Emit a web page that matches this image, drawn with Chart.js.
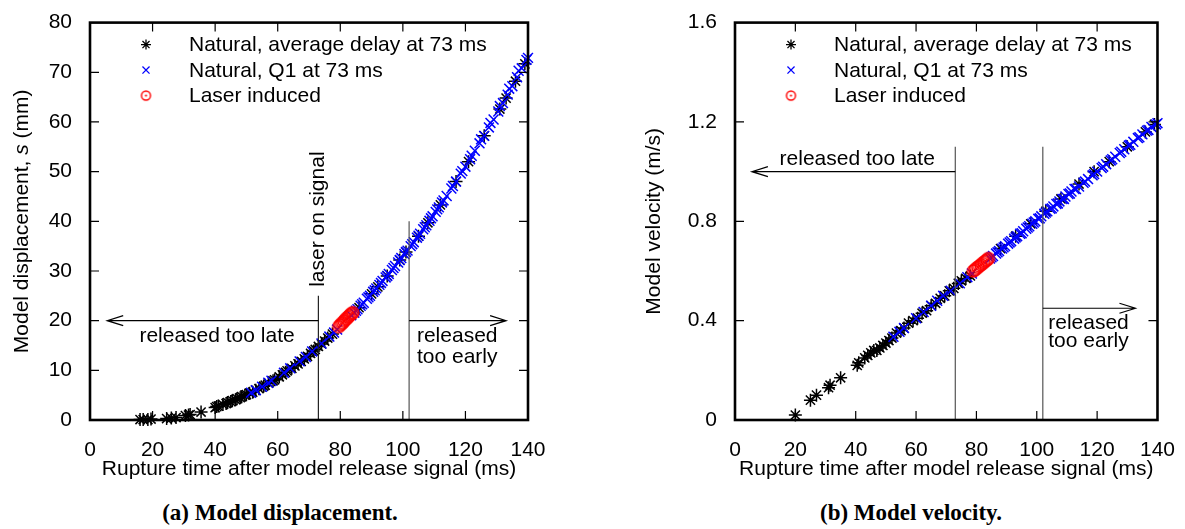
<!DOCTYPE html>
<html>
<head>
<meta charset="utf-8">
<script src="https://cdn.jsdelivr.net/npm/chart.js@4"></script>
<style>
  body { margin: 0; background: #fff; width: 1185px; height: 529px; position: relative; overflow: hidden; }
  .box { position: absolute; top: 0; height: 500px; }
  .cap { position: absolute; top: 500px; font: bold 23px 'Liberation Serif', 'Times New Roman', serif; color: #000; transform: translateX(-50%); white-space: nowrap; }
</style>
</head>
<body>
<div class="box" style="left:0;width:560px"><canvas id="disp"></canvas></div>
<div class="box" style="left:630px;width:555px"><canvas id="vel"></canvas></div>
<div class="cap" style="left:280px">(a) Model displacement.</div>
<div class="cap" style="left:911px">(b) Model velocity.</div>
<script>
// labels
const seriesNames = ['Natural, average delay at 73 ms', 'Natural, Q1 at 73 ms', 'Laser induced'];
const xTitle = 'Rupture time after model release signal (ms)';

// (a) displacement, s in mm vs rupture time in ms
const dispBlackT = [16, 17, 18.5, 19.5, 24.5, 26, 27.5, 30.5, 31.5, 32, 35.5, 40, 40.5, 41, 42.5, 43.5, 44, 45, 45.5, 46.5, 47, 48, 48.5, 49.5, 50,
  51, 52, 53, 54, 55.5, 56, 57, 58.5, 59, 60.5, 61.5, 62.5, 63, 64.5, 65.5, 66.5, 67.5, 68.5, 69.5, 70.5, 71.5, 72, 73, 74, 75, 76, 77.5,
  86, 90, 92, 95, 99, 101, 105, 108, 112, 117, 121, 126, 131, 133, 136, 139];
const dispBlackS = [0.1, 0.1, 0.1, 0.2, 0.3, 0.4, 0.5, 0.9, 1.0, 1.1, 1.6, 2.5, 2.7, 2.8, 3.1, 3.3, 3.5, 3.7, 3.9, 4.1, 4.3, 4.5, 4.7, 5.0, 5.1,
  5.4, 5.6, 6.0, 6.3, 6.8, 7.0, 7.4, 7.9, 8.1, 8.7, 9.1, 9.6, 9.9, 10.4, 10.9, 11.3, 11.8, 12.3, 12.8, 13.4, 13.9, 14.2, 14.8, 15.3, 15.9, 16.5, 17.3,
  22.6, 25.4, 26.8, 29.0, 32.2, 33.8, 37.0, 39.7, 43.3, 48.0, 52.0, 57.2, 62.6, 64.8, 68.2, 71.7];
const dispBlueT = [51.5, 53, 55, 57, 58, 62, 64, 67, 69, 71, 74, 76.5, 78, 79, 83.5,
  84.5, 85.5, 86.5, 87.5, 88.5, 89.5, 90.5, 91.5, 92.5, 93.5, 94.5, 95.5, 96.5, 97.5, 98.5, 99.5, 100.5, 101.5, 102.5, 103.5,
  104.5, 105.5, 106.5, 107.5, 108.5, 109.5, 110.5, 111.5, 112.5, 114, 115.5, 117, 118.5, 120, 121.5, 123, 124.5, 126, 127.5,
  129, 130.5, 132, 133.5, 135, 136.5, 138, 139.5,
  85, 87, 89, 91, 93, 95, 97, 99, 101, 103, 105, 107, 109, 111, 113, 116, 119, 122, 125, 128, 131, 134, 137, 140];
const dispBlueS = [5.5, 6.0, 6.7, 7.5, 7.9, 9.5, 10.4, 11.8, 12.7, 13.8, 15.4, 16.8, 17.6, 18.2, 21.1,
  21.6, 22.3, 23.0, 23.6, 24.4, 25.0, 25.8, 26.5, 27.2, 28.0, 28.7, 29.4, 30.2, 31.0, 31.7, 32.6, 33.4, 34.1, 35.0, 35.8,
  36.7, 37.5, 38.4, 39.2, 40.1, 41.0, 41.9, 42.8, 43.8, 45.1, 46.6, 48.0, 49.6, 51.0, 52.5, 54.2, 55.7, 57.2, 58.9,
  60.5, 62.1, 63.8, 65.5, 67.2, 69.0, 70.8, 72.5,
  22.0, 23.3, 24.7, 26.1, 27.6, 29.0, 30.6, 32.2, 33.8, 35.4, 37.1, 38.8, 40.6, 42.4, 44.2, 47.1, 50.1, 53.2, 56.5, 59.8, 63.2, 66.7, 70.3, 72.9];
const dispRedT = [79.5, 80, 80.4, 80.8, 81.2, 81.6, 82, 82.4, 82.8, 83.2, 83.6, 84];
const dispRedS = [18.8, 19.1, 19.4, 19.6, 19.9, 20.2, 20.4, 20.7, 20.9, 21.2, 21.4, 21.6];

// (b) velocity, m/s vs rupture time in ms
const velBlackT = [20, 25, 27, 31, 31.5, 35, 40.5, 41, 43, 44, 45, 46, 47, 48, 49, 50, 51, 52, 53.5, 55,
  56, 57.5, 59, 60.5, 62, 63.5, 65, 66.5, 68, 69.5, 71, 72.5, 74, 75, 76.5, 78,
  88, 93, 98, 103, 108, 114, 119, 124, 130, 136, 139];
const velBlackV = [0.02, 0.08, 0.10, 0.13, 0.14, 0.17, 0.22, 0.23, 0.25, 0.26, 0.27, 0.28, 0.28, 0.29, 0.30, 0.31, 0.32, 0.33, 0.35, 0.36,
  0.37, 0.39, 0.40, 0.41, 0.43, 0.44, 0.46, 0.47, 0.49, 0.50, 0.52, 0.53, 0.55, 0.56, 0.57, 0.58,
  0.69, 0.74, 0.79, 0.84, 0.89, 0.95, 1.00, 1.04, 1.10, 1.16, 1.19];
const velBlueT = [52.5, 54.5, 56, 60, 62.5, 65, 67, 69, 71.5, 74.5, 77, 78.5,
  84.5, 85.5, 86.5, 87.5, 88.5, 89.5, 90.5, 91.5, 92.5, 93.5, 94.5, 95.5, 96.5, 97.5, 98.5, 99.5, 100.5, 101.5, 102.5, 103.5,
  104.5, 105.5, 106.5, 107.5, 108.5, 109.5, 110.5, 111.5, 112.5, 114, 115.5, 117, 118.5, 120, 121.5, 123, 124.5, 126, 127.5,
  129, 130.5, 132, 133.5, 135, 136.5, 138, 139.5,
  85, 87, 89, 91, 93, 95, 97, 99, 101, 103, 105, 107, 109, 111, 113, 116, 119, 122, 125, 128, 131, 134, 137, 140];
const velBlueV = [0.335, 0.355, 0.37, 0.41, 0.435, 0.46, 0.48, 0.50, 0.52, 0.55, 0.575, 0.59,
  0.65, 0.66, 0.67, 0.68, 0.69, 0.70, 0.71, 0.72, 0.73, 0.74, 0.75, 0.76, 0.77, 0.78, 0.79, 0.80, 0.81, 0.82, 0.83, 0.84,
  0.85, 0.86, 0.87, 0.88, 0.89, 0.90, 0.91, 0.92, 0.93, 0.94, 0.955, 0.97, 0.985, 1.00, 1.015, 1.03, 1.045, 1.06, 1.075,
  1.09, 1.105, 1.12, 1.135, 1.15, 1.165, 1.18, 1.19,
  0.655, 0.675, 0.695, 0.715, 0.735, 0.752, 0.775, 0.795, 0.812, 0.835, 0.852, 0.872, 0.89, 0.912, 0.93, 0.96, 0.99, 1.02, 1.05, 1.08, 1.108, 1.138, 1.168, 1.195];
const velRedT = [79, 79.5, 80, 80.5, 81, 81.5, 82, 82.5, 83, 83.5, 84];
const velRedV = [0.60, 0.605, 0.61, 0.615, 0.62, 0.625, 0.63, 0.635, 0.64, 0.645, 0.65];

const FONT = "21px 'Liberation Sans', Arial, sans-serif";
Chart.defaults.font.family = "'Liberation Sans', Arial, sans-serif";
Chart.defaults.font.size = 21;
Chart.defaults.color = '#000';

const pts = (xs, ys) => xs.map((x, i) => ({x: x, y: ys[i]}));

// gnuplot style open circle with a dot in the middle
function ring(r) {
  const cv = document.createElement('canvas');
  const n = Math.ceil(r * 2 + 4);
  cv.width = n; cv.height = n;
  const c = cv.getContext('2d');
  c.strokeStyle = '#ff0000'; c.fillStyle = '#ff0000'; c.lineWidth = 1.4;
  c.beginPath(); c.arc(n / 2, n / 2, r, 0, Math.PI * 2); c.stroke();
  c.beginPath(); c.arc(n / 2, n / 2, 1.1, 0, Math.PI * 2); c.fill();
  return cv;
}
const ringBig = ring(6);
const ringKey = ring(4.5);

function makeSets(bt, bv, qt, qv, rt, rv) {
  return [{
    label: seriesNames[0], data: pts(bt, bv), order: 3, key: 'star',
    pointStyle: 'star', pointRadius: 6.5, borderColor: '#000', backgroundColor: '#000', borderWidth: 1.5, clip: false
  }, {
    label: seriesNames[1], data: pts(qt, qv), order: 2, key: 'crossRot',
    pointStyle: 'crossRot', pointRadius: 7, borderColor: '#0000ff', backgroundColor: '#0000ff', borderWidth: 1.5, clip: false
  }, {
    label: seriesNames[2], data: pts(rt, rv), order: 1, key: ringKey,
    pointStyle: ringBig, pointRadius: 6, borderColor: '#ff0000', backgroundColor: '#ff0000', borderWidth: 1.4, clip: false
  }];
}

// border box + inward ticks on all four sides
const frame = {
  id: 'frame',
  afterDatasetsDraw(chart) {
    const {ctx, chartArea: a, scales: {x, y}} = chart;
    ctx.save();
    ctx.strokeStyle = '#000';
    ctx.lineWidth = 1.2;
    ctx.beginPath();
    x.ticks.forEach(t => {
      const px = x.getPixelForValue(t.value);
      if (px <= a.left + 1 || px >= a.right - 1) return;
      ctx.moveTo(px, a.bottom); ctx.lineTo(px, a.bottom - 9);
      ctx.moveTo(px, a.top); ctx.lineTo(px, a.top + 9);
    });
    y.ticks.forEach(t => {
      const py = y.getPixelForValue(t.value);
      if (py <= a.top + 1 || py >= a.bottom - 1) return;
      ctx.moveTo(a.left, py); ctx.lineTo(a.left + 9, py);
      ctx.moveTo(a.right, py); ctx.lineTo(a.right - 9, py);
    });
    ctx.stroke();
    ctx.lineWidth = 2.6;
    ctx.strokeRect(a.left, a.top, a.right - a.left, a.bottom - a.top);
    ctx.restore();
  }
};

// key inside the plot, top left
const keyBox = {
  id: 'keyBox',
  afterDraw(chart) {
    const {ctx, chartArea: a} = chart;
    ctx.save();
    ctx.font = FONT;
    ctx.textBaseline = 'middle';
    ctx.textAlign = 'left';
    chart.data.datasets.forEach((ds, i) => {
      const yy = a.top + 22 + i * 25.5;
      ctx.strokeStyle = ds.borderColor;
      ctx.fillStyle = ds.backgroundColor;
      ctx.lineWidth = 1.3;
      Chart.helpers.drawPoint(ctx, {pointStyle: ds.key, radius: 5, rotation: 0, borderWidth: 1.3}, a.left + 56, yy);
      ctx.fillStyle = '#000';
      ctx.fillText(ds.label, a.left + 99, yy + 1);
    });
    ctx.restore();
  }
};

// y title drawn by hand so the symbol can be italic
const yTitle = {
  id: 'yTitle',
  afterDraw(chart, args, o) {
    const {ctx, chartArea: a} = chart;
    const fonts = {n: FONT, i: 'italic ' + FONT};
    let total = 0;
    o.parts.forEach(p => { ctx.font = fonts[p.f]; total += ctx.measureText(p.t).width; });
    ctx.save();
    ctx.translate(a.left - o.offset, (a.top + a.bottom) / 2);
    ctx.rotate(-Math.PI / 2);
    ctx.textBaseline = 'middle';
    ctx.textAlign = 'left';
    ctx.fillStyle = '#000';
    let cx = -total / 2;
    o.parts.forEach(p => { ctx.font = fonts[p.f]; ctx.fillText(p.t, cx, 0); cx += ctx.measureText(p.t).width; });
    ctx.restore();
  }
};

// guide lines, arrows and notes, given in data units
const notes = {
  id: 'notes',
  afterDatasetsDraw(chart, args, o) {
    const {ctx, scales: {x, y}} = chart;
    ctx.save();
    ctx.lineWidth = 1.2;
    o.lines.forEach(l => {
      ctx.strokeStyle = l.c;
      ctx.beginPath();
      ctx.moveTo(x.getPixelForValue(l.x), y.getPixelForValue(l.y0));
      ctx.lineTo(x.getPixelForValue(l.x), y.getPixelForValue(l.y1));
      ctx.stroke();
    });
    ctx.strokeStyle = '#000';
    o.arrows.forEach(r => {
      const x0 = x.getPixelForValue(r.x0), x1 = x.getPixelForValue(r.x1), py = y.getPixelForValue(r.y);
      const d = x1 > x0 ? -16 : 16;
      ctx.beginPath();
      ctx.moveTo(x0, py); ctx.lineTo(x1, py);
      ctx.moveTo(x1 + d, py - 5); ctx.lineTo(x1, py); ctx.lineTo(x1 + d, py + 5);
      ctx.stroke();
    });
    ctx.fillStyle = '#000';
    ctx.font = FONT;
    ctx.textBaseline = 'middle';
    o.texts.forEach(t => {
      ctx.save();
      ctx.translate(x.getPixelForValue(t.x), y.getPixelForValue(t.y));
      if (t.rot) ctx.rotate(-Math.PI / 2);
      ctx.textAlign = t.align;
      ctx.fillText(t.t, 0, 0);
      ctx.restore();
    });
    ctx.restore();
  }
};

function makeChart(id, sets, yMax, yStep, yWidth, padRight, yFmt, yTitleOpts, noteOpts) {
  return new Chart(document.getElementById(id), {
    type: 'scatter',
    data: {datasets: sets},
    plugins: [notes, frame, keyBox, yTitle],
    options: {
      responsive: true,
      maintainAspectRatio: false,
      animation: false,
      layout: {padding: {left: 0, right: padRight, top: 17, bottom: 0}},
      plugins: {
        legend: {display: false},
        tooltip: {enabled: false},
        yTitle: yTitleOpts,
        notes: noteOpts
      },
      scales: {
        x: {
          type: 'linear', min: 0, max: 140,
          ticks: {stepSize: 20, padding: 10, maxRotation: 0},
          grid: {display: false},
          border: {display: false},
          title: {display: true, text: xTitle, padding: {top: 0, bottom: 18}},
          afterFit(s) { s.height = 80; }
        },
        y: {
          type: 'linear', min: 0, max: yMax,
          ticks: {stepSize: yStep, padding: 10, callback: yFmt},
          grid: {display: false},
          border: {display: false},
          afterFit(s) { s.width = yWidth; }
        }
      }
    }
  });
}

makeChart('disp', makeSets(dispBlackT, dispBlackS, dispBlueT, dispBlueS, dispRedT, dispRedS),
  80, 10, 90, 32, v => v,
  {offset: 68, parts: [{t: 'Model displacement, ', f: 'n'}, {t: 's', f: 'i'}, {t: ' (mm)', f: 'n'}]},
  {
    lines: [{x: 73, y0: 0, y1: 25, c: '#222'}, {x: 102, y0: 0, y1: 40, c: '#555'}],
    arrows: [{x0: 73, x1: 5.5, y: 20}, {x0: 102, x1: 133, y: 20}],
    texts: [
      {t: 'laser on signal', x: 73, y: 26.8, align: 'left', rot: true},
      {t: 'released too late', x: 40.6, y: 16.9, align: 'center'},
      {t: 'released', x: 104.5, y: 16.9, align: 'left'},
      {t: 'too early', x: 104.5, y: 12.6, align: 'left'}
    ]
  });

makeChart('vel', makeSets(velBlackT, velBlackV, velBlueT, velBlueV, velRedT, velRedV),
  1.6, 0.4, 105, 25, v => (v === 0 ? '0' : v.toFixed(1)),
  {offset: 81, parts: [{t: 'Model velocity (m/s)', f: 'n'}]},
  {
    lines: [{x: 73, y0: 0, y1: 1.1, c: '#555'}, {x: 102, y0: 0, y1: 1.1, c: '#555'}],
    arrows: [{x0: 73, x1: 5.6, y: 1.0}, {x0: 102, x1: 132.7, y: 0.45}],
    texts: [
      {t: 'released too late', x: 40.5, y: 1.052, align: 'center'},
      {t: 'released', x: 103.8, y: 0.389, align: 'left'},
      {t: 'too early', x: 103.8, y: 0.318, align: 'left'}
    ]
  });
</script>
</body>
</html>
